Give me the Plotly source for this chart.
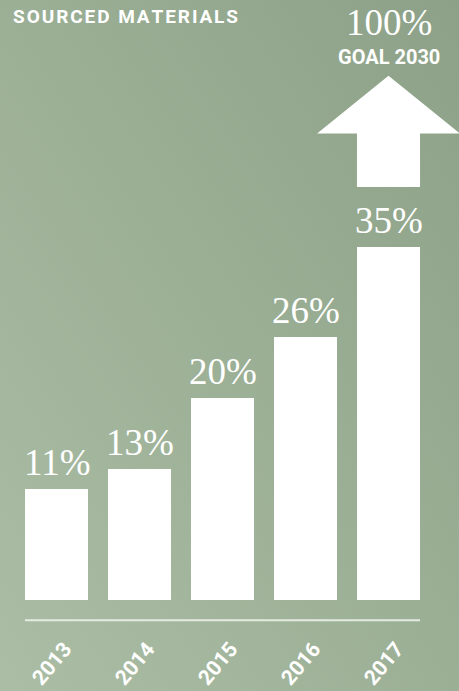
import base64
import plotly.graph_objects as go

years = ["2013", "2014", "2015", "2016", "2017"]
values = [11, 13, 20, 26, 35]
goal_value = 100
goal_label = "GOAL 2030"
title = "SOURCED MATERIALS"

W, H = 459, 691
BAR_W = 0.76
SERIF = "Liberation Serif, DejaVu Serif, serif"
SANS = "Roboto, Arial, sans-serif"

svg = f'''<svg xmlns="http://www.w3.org/2000/svg" width="{W}" height="{H}">
<defs><linearGradient id="g" x1="0" y1="1" x2="1" y2="0">
<stop offset="0" stop-color="#abbea5"/><stop offset="1" stop-color="#8ca187"/>
</linearGradient></defs><rect width="{W}" height="{H}" fill="url(#g)"/></svg>'''
src = "data:image/svg+xml;base64," + base64.b64encode(svg.encode()).decode()

xi = list(range(len(years)))
fig = go.Figure()
fig.add_trace(go.Bar(x=xi, y=values, width=BAR_W, marker=dict(color="white", line=dict(width=0)),
                     hoverinfo="skip"))

ann = []
for i, v in zip(xi, values):
    ann.append(dict(x=i, y=v, text=f"{v}%", showarrow=False, yanchor="bottom", yshift=4,
                    font=dict(family=SERIF, size=37, color="white")))
for i, yr in zip(xi, years):
    ann.append(dict(x=i - 0.06, y=-6.35, text=f"<b>{yr}</b>", showarrow=False, textangle=-50,
                    xanchor="center", yanchor="middle",
                    font=dict(family=SANS, size=21, color="white")))

last = xi[-1]
ann.append(dict(x=last, y=57.2, text=f"{goal_value}%", showarrow=False, yanchor="middle",
                font=dict(family=SERIF, size=37, color="white")))
ann.append(dict(x=last, y=53.8, text=f"<b>{goal_label}</b>", showarrow=False, yanchor="middle",
                font=dict(family=SANS, size=20, color="white")))
spaced_title = "\u200a".join(title)
ann.append(dict(xref="paper", yref="paper", x=11 / W, y=1 - 16 / H, text=f"<b>{spaced_title}</b>",
                showarrow=False, xanchor="left", yanchor="middle",
                font=dict(family=SANS, size=19, color="white")))

hw = BAR_W / 2
head = 0.86
y_shaft, y_base, y_tip = 40.9, 46.2, 51.9
path = (f"M {last-hw},{y_shaft} L {last-hw},{y_base} L {last-head},{y_base} L {last},{y_tip} "
        f"L {last+head},{y_base} L {last+hw},{y_base} L {last+hw},{y_shaft} Z")
shapes = [
    dict(type="path", path=path, fillcolor="white", line=dict(width=0), layer="above"),
    dict(type="line", x0=xi[0] - hw, x1=last + hw, y0=-2.0, y1=-2.0,
         line=dict(color="rgba(235,240,232,0.9)", width=2)),
]

px_per = 10.1
fig.update_layout(
    width=W, height=H, margin=dict(l=0, r=0, t=0, b=0),
    paper_bgcolor="#9aae94", plot_bgcolor="rgba(0,0,0,0)",
    images=[dict(source=src, xref="paper", yref="paper", x=0, y=1, sizex=1, sizey=1,
                 xanchor="left", yanchor="top", sizing="stretch", layer="below")],
    xaxis=dict(range=[-56.5 / 83, (W - 56.5) / 83], visible=False, fixedrange=True),
    yaxis=dict(range=[-(H - 600) / px_per, 600 / px_per], visible=False, fixedrange=True),
    annotations=ann, shapes=shapes, showlegend=False, bargap=0,
)
fig.write_html("out.html")
